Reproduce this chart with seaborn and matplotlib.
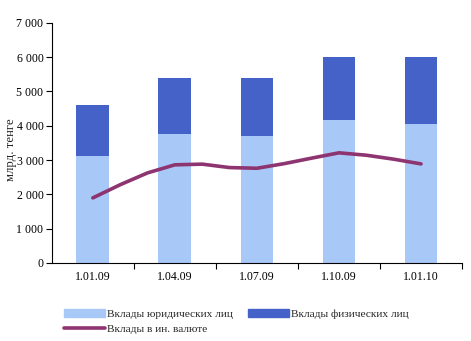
import numpy as np
import pandas as pd
import matplotlib
matplotlib.use("Agg")
import matplotlib.pyplot as plt
import seaborn as sns
from matplotlib.patches import Patch
from matplotlib.lines import Line2D
from matplotlib.ticker import FuncFormatter, MultipleLocator, FixedLocator

categories = ["1.01.09", "1.04.09", "1.07.09", "1.10.09", "1.01.10"]
legal = [3110, 3770, 3710, 4160, 4060]
total = [4600, 5400, 5400, 6000, 6000]
line_months = ["1.01.09", "1.02.09", "1.03.09", "1.04.09", "1.05.09", "1.06.09", "1.07.09",
               "1.08.09", "1.09.09", "1.10.09", "1.11.09", "1.12.09", "1.01.10"]
foreign = [1896, 2280, 2625, 2860, 2880, 2780, 2760, 2895, 3055, 3210, 3140, 3025, 2887]

names = ["Вклады юридических лиц", "Вклады физических лиц", "Вклады в ин. валюте"]
c_light = "#A8C9F8"
c_dark = "#4562C9"
c_line = "#8E3470"

sns.set_theme(style="white")
plt.rcParams["font.family"] = ["Liberation Serif", "DejaVu Serif"]
fs = 8.6
lfs = 8.2

fig = plt.figure(figsize=(4.71, 3.41), dpi=100)
ax = fig.add_axes([0.110, 0.229, 0.871, 0.704])

df = pd.DataFrame({"cat": categories, "legal": legal, "total": total})
sns.barplot(data=df, x="cat", y="total", color=c_dark, width=0.4, saturation=1, ax=ax,
            order=categories, linewidth=0)
sns.barplot(data=df, x="cat", y="legal", color=c_light, width=0.4, saturation=1, ax=ax,
            order=categories, linewidth=0)

xl = [i / 3 for i in range(len(line_months))]
ldf = pd.DataFrame({"x": xl, "v": foreign})
sns.lineplot(data=ldf, x="x", y="v", color=c_line, linewidth=2.6, ax=ax,
             solid_capstyle="round", solid_joinstyle="round")

ax.set_xlim(-0.5, 4.5)
ax.set_ylim(0, 7000)
ax.yaxis.set_major_locator(MultipleLocator(1000))
ax.yaxis.set_major_formatter(FuncFormatter(lambda v, p: f"{int(v):,}".replace(",", " ")))
ax.set_xticks(range(len(categories)))
ax.set_xticklabels(categories)
ax.xaxis.set_minor_locator(FixedLocator([0.5, 1.5, 2.5, 3.5, 4.5]))
ax.tick_params(axis="x", which="major", length=0, labelsize=fs, pad=6, colors="black")
ax.tick_params(axis="x", which="minor", length=4, width=0.8, direction="out", bottom=True, color="black")
ax.tick_params(axis="y", which="major", length=4, width=0.8, direction="out", left=True,
               labelsize=fs, pad=2, colors="black")
ax.set_xlabel("")
ax.set_ylabel("млрд. тенге", fontsize=9.2)
ax.yaxis.set_label_coords(-0.086, 0.47)
for s in ["top", "right"]:
    ax.spines[s].set_visible(False)
for s in ["left", "bottom"]:
    ax.spines[s].set_color("black")
    ax.spines[s].set_linewidth(0.8)

handles = [Patch(color=c_light), Line2D([0], [0], color=c_line, lw=2.6, solid_capstyle="round"),
           Patch(color=c_dark)]
labels = [names[0], names[2], names[1]]
fig.legend(handles, labels, ncol=2, loc="upper left", bbox_to_anchor=(0.136, 0.093),
           frameon=False, fontsize=lfs, handlelength=3.6, handletextpad=0.2,
           columnspacing=1.3, labelspacing=0.45, borderaxespad=0, borderpad=0)

fig.savefig("out.png", dpi=100)
